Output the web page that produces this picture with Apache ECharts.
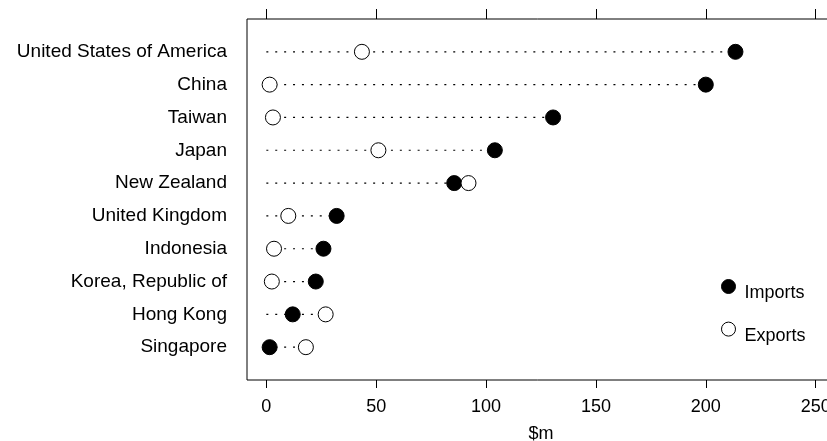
<!DOCTYPE html>
<html>
<head>
<meta charset="utf-8">
<script src="https://cdn.jsdelivr.net/npm/echarts@6/dist/echarts.min.js"></script>
<style>html,body{margin:0;padding:0;background:#fff;}#c{width:827px;height:441px;}</style>
</head>
<body>
<div id="c"></div>
<script>
const countries = ['United States of America','China','Taiwan','Japan','New Zealand','United Kingdom','Indonesia','Korea, Republic of','Hong Kong','Singapore'];
const imports = [213.5, 200, 130.5, 104, 85.5, 32, 26, 22.5, 12, 1.5];
const exportsV = [43.5, 1.5, 3, 51, 92, 10, 3.5, 2.5, 27, 18];
const xTicks = [0, 50, 100, 150, 200, 250];
const xName = '$m';

const yCats = [''].concat(countries).concat(['']);
const FONT = 'Liberation Sans, Arial, sans-serif';

const chart = echarts.init(document.getElementById('c'), null, {renderer: 'canvas'});
chart.setOption({
  animation: false,
  backgroundColor: '#fff',
  grid: {left: 247, right: -8, top: 19, bottom: 61, show: true, borderColor: '#000', borderWidth: 1,
    backgroundColor: 'transparent', containLabel: false, outerBoundsMode: 'none'},
  legend: {
    data: ['Imports', 'Exports'],
    orient: 'vertical', left: 716, top: 266,
    itemWidth: 14, itemHeight: 14, itemGap: 11.6,
    icon: 'circle',
    itemStyle: {borderWidth: 1},
    formatter: '{a|{name}}',
    textStyle: {fontFamily: FONT, fontSize: 18, color: '#000',
      rich: {a: {fontFamily: FONT, fontSize: 18, color: '#000', padding: [13, 0, 0, 4], lineHeight: 18}}}
  },
  xAxis: [{
    type: 'value', position: 'bottom', min: -8.8, max: 258.8,
    axisLine: {show: false}, splitLine: {show: false},
    axisTick: {show: true, customValues: xTicks, length: 8, lineStyle: {color: '#000'}},
    axisLabel: {customValues: xTicks, fontFamily: FONT, fontSize: 18, color: '#000', margin: 18},
    name: xName, nameLocation: 'middle', nameGap: 45,
    nameTextStyle: {fontFamily: FONT, fontSize: 18, color: '#000'}
  }, {
    type: 'value', position: 'top', min: -8.8, max: 258.8,
    axisLine: {show: false}, splitLine: {show: false},
    axisTick: {show: true, customValues: xTicks, length: 10, lineStyle: {color: '#000'}},
    axisLabel: {show: false}
  }],
  yAxis: {
    type: 'category', data: yCats, inverse: true, boundaryGap: false,
    axisLine: {show: false}, axisTick: {show: false}, splitLine: {show: false},
    axisLabel: {fontFamily: FONT, fontSize: 19, color: '#000', margin: 20, interval: 0}
  },
  series: [{
    type: 'custom', silent: true, z: 1,
    encode: {x: [0, 1], y: 2},
    data: countries.map((c, i) => [0, Math.max(imports[i], exportsV[i]), i + 1]),
    renderItem: function (params, api) {
      const a = api.coord([api.value(0), api.value(2)]);
      const b = api.coord([api.value(1), api.value(2)]);
      return {type: 'line', shape: {x1: a[0], y1: a[1], x2: b[0], y2: b[1]},
        style: {stroke: '#000', lineWidth: 1.2, lineDash: [2, 6.9]}};
    }
  }, {
    name: 'Imports', type: 'scatter', z: 3, symbol: 'circle', symbolSize: 15,
    itemStyle: {color: '#000', borderColor: '#000', borderWidth: 1, opacity: 1},
    data: countries.map((c, i) => [imports[i], c])
  }, {
    name: 'Exports', type: 'scatter', z: 4, symbol: 'circle', symbolSize: 15,
    itemStyle: {color: '#fff', borderColor: '#000', borderWidth: 1, opacity: 1},
    data: countries.map((c, i) => [exportsV[i], c])
  }]
});
</script>
</body>
</html>
